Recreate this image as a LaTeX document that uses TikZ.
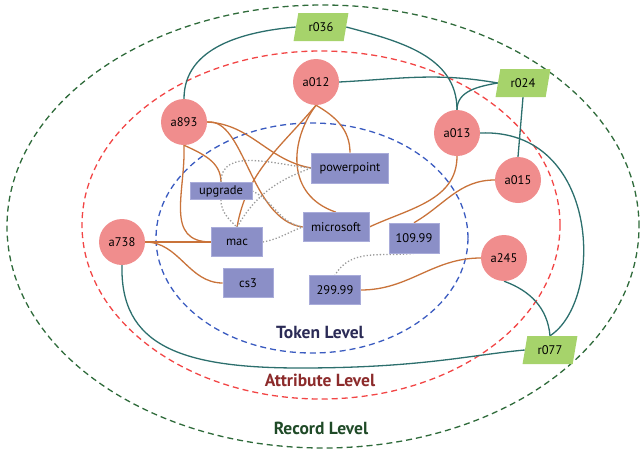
\documentclass[tikz,border=0pt]{standalone}
\usepackage{fontspec}
\setmainfont{PT Sans}
\usetikzlibrary{shapes.geometric}
\definecolor{pinkc}{HTML}{F08D8D}
\definecolor{boxc}{HTML}{8B8FC7}
\definecolor{boxb}{HTML}{A9ACDA}
\definecolor{parac}{HTML}{A6D36B}
\definecolor{tealc}{HTML}{2C6F6D}
\definecolor{orangec}{HTML}{C9733A}
\definecolor{dotc}{HTML}{9A9A9A}
\definecolor{greend}{HTML}{2F6B3B}
\definecolor{redd}{HTML}{F24545}
\definecolor{blued}{HTML}{3A5BC0}
\definecolor{toktxt}{HTML}{2B2B56}
\definecolor{atttxt}{HTML}{8C2B2B}
\definecolor{rectxt}{HTML}{1F4A27}
\pgfdeclarelayer{bg}
\pgfsetlayers{bg,main}
\begin{document}
\begin{tikzpicture}[x=1pt,y=1pt, font=\fontsize{12.5}{14}\selectfont,
 attr/.style={circle, fill=pinkc, minimum size=46pt, inner sep=0pt},
 tok/.style={rectangle, fill=boxc, draw=boxb, line width=0.6pt, inner sep=0pt},
 rec/.style={trapezium, trapezium left angle=74, trapezium right angle=106, trapezium stretches=true, minimum width=55pt, minimum height=28pt, fill=parac, inner sep=0pt},
 rline/.style={tealc, line width=1.3pt},
 aline/.style={orangec, line width=1.3pt},
 tline/.style={dotc, line width=1.3pt, dotted},
 lvl/.style={dash pattern=on 6pt off 4pt, line width=1.3pt},
 lvltext/.style={font=\fontsize{17.5}{20}\selectfont\bfseries}
]
\useasboundingbox (0,0) rectangle (640,-450);
% attribute nodes
\node[attr] (a893) at (184,-122) {a893};
\node[attr] (a012) at (316,-82) {a012};
\node[attr] (a013) at (457,-133) {a013};
\node[attr] (a015) at (518,-180) {a015};
\node[attr] (a738) at (122,-242) {a738};
\node[attr] (a245) at (504,-258) {a245};
% token nodes
\node[tok, minimum width=77pt, minimum height=30pt] (ppt) at (350,-168) {powerpoint};
\node[tok, minimum width=62pt, minimum height=17pt] (upg) at (221,-191) {upgrade};
\node[tok, minimum width=51pt, minimum height=29pt] (mac) at (237,-242) {mac};
\node[tok, minimum width=66pt, minimum height=29pt] (ms) at (336,-227) {microsoft};
\node[tok, minimum width=50pt, minimum height=29pt] (cs3) at (248,-283) {cs3};
\node[tok, minimum width=51pt, minimum height=29pt] (p299) at (335,-290) {299.99};
\node[tok, minimum width=50pt, minimum height=30pt] (p109) at (414,-238) {109.99};
% record nodes
\node[rec] (r036) at (321,-27) {r036};
\node[rec] (r024) at (523,-83) {r024};
\node[rec] (r077) at (550,-350) {r077};
% level labels
\node[lvltext, text=toktxt] (ltok) at (320,-332) {Token Level};
\node[lvltext, text=atttxt] (latt) at (320,-380) {Attribute Level};
\node[lvltext, text=rectxt] (lrec) at (321,-428) {Record Level};

\begin{pgfonlayer}{bg}
\draw[lvl, greend] (323,-226.5) ellipse [x radius=316, y radius=221.5];
\draw[lvl, redd] (321,-225) ellipse [x radius=239, y radius=174];
\draw[lvl, blued] (312,-238) ellipse [x radius=156, y radius=115];
% record edges
\draw[rline] (r036.west) to[out=185,in=90] (a893.north);
\draw[rline] (r036.east) to[out=-15,in=90] (a013.north);
\draw[rline] (a012.east) to[out=3,in=170] (r024.west);
\draw[rline] (r024.west) to[out=190,in=90] (a013.north);
\draw[rline] (r024.south) -- (a015.north);
\draw[rline] (a013.east) .. controls (600,-128) and (605,-300) .. (r077.north);
\draw[rline] (a245.south) to[out=-20,in=95] (r077.north);
\draw[rline] (a738.south) .. controls (120,-345) and (180,-368) .. (300,-368) .. controls (420,-368) and (470,-355) .. (r077.west);
% attribute edges
\draw[aline] (a893.south) to[out=-88,in=180,looseness=1.2] (mac.west);
\draw[aline] (a893.south) to[out=-25,in=90] (upg.north);
\draw[aline] (a893.east) to[out=-3,in=170] (ppt.west);
\draw[aline] (a893.east) .. controls (245,-118) and (250,-220) .. (ms.west);
\draw[aline] (a012.south) to[out=-30,in=90] (ppt.north);
\draw[aline] (a012.south) .. controls (290,-140) and (285,-195) .. (ms.north);
\draw[aline] (a012.south) to[out=-130,in=80] (mac.north);
\draw[aline] (a738.east) -- (mac.west);
\draw[aline] (a738.east) to[out=0,in=180] (cs3.west);
\draw[aline] (a013.south) to[out=-90,in=25] (ms.east);
\draw[aline] (a015.west) to[out=180,in=30] (p109.north);
\draw[aline] (a245.west) to[out=180,in=0] (p299.east);
% token edges
\draw[tline] (upg.south) to[out=-90,in=135] (mac.north);
\draw[tline] (upg.east) to[out=-25,in=170] (ms.west);
\draw[tline] (upg.north) to[out=90,in=175] (ppt.west);
\draw[tline] (mac.north) to[out=60,in=200] (ppt.west);
\draw[tline] (mac.east) to[out=10,in=200] (ms.west);
\draw[tline] (p109.south) to[out=187,in=60] (p299.north);
\end{pgfonlayer}
\end{tikzpicture}
\end{document}
